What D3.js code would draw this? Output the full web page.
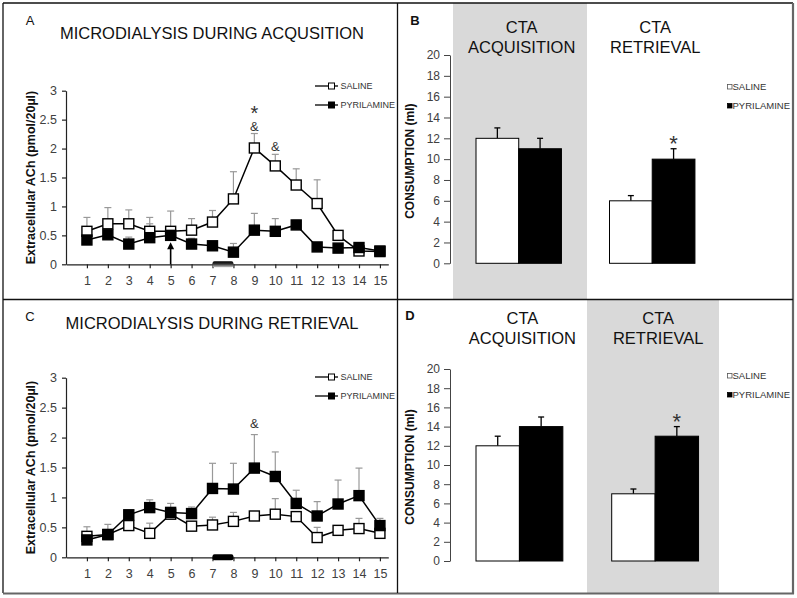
<!DOCTYPE html>
<html><head><meta charset="utf-8">
<script src="https://cdn.jsdelivr.net/npm/d3@7"></script>
<style>body{margin:0;background:#fff} svg{display:block} text{font-family:"Liberation Sans",Arial,sans-serif}</style>
</head><body><svg id="c" width="797" height="598"></svg>
<script>
// ---------- data ----------
const timepoints = [1,2,3,4,5,6,7,8,9,10,11,12,13,14,15];
const yTicksAch = [0,0.5,1,1.5,2,2.5,3];
const seriesNames = ["SALINE","PYRILAMINE"];

const acqSaline    = [0.57,0.70,0.70,0.57,0.57,0.59,0.73,1.13,2.01,1.70,1.37,1.05,0.50,0.23,0.22];
const acqSalineErr = [0.24,0.28,0.24,0.24,0.35,0.20,0.20,0.47,0.25,0.20,0.28,0.41,0.08,0.03,0.00];
const acqPyril     = [0.42,0.51,0.35,0.46,0.50,0.35,0.32,0.21,0.59,0.57,0.68,0.30,0.28,0.29,0.23];
const acqPyrilErr  = [0.00,0.00,0.12,0.24,0.00,0.10,0.00,0.15,0.29,0.22,0.08,0.00,0.00,0.00,0.00];

const retSaline    = [0.35,0.38,0.53,0.40,0.72,0.52,0.54,0.60,0.69,0.72,0.68,0.33,0.45,0.48,0.40];
const retSalineErr = [0.16,0.00,0.00,0.17,0.00,0.00,0.13,0.15,0.00,0.26,0.00,0.17,0.00,0.17,0.00];
const retPyril     = [0.29,0.38,0.71,0.83,0.75,0.73,1.15,1.14,1.49,1.35,0.90,0.69,0.89,1.03,0.53];
const retPyrilErr  = [0.00,0.17,0.00,0.13,0.15,0.11,0.42,0.43,0.56,0.41,0.22,0.24,0.40,0.46,0.12];

const ctaGroups = ["CTA ACQUISITION","CTA RETRIEVAL"];
const yTicksCons = [0,2,4,6,8,10,12,14,16,18,20];
const bSaline    = [12,6];
const bSalineErr = [1,0.5];
const bPyril     = [11,10];
const bPyrilErr  = [1,1];
const dSaline    = [12,7];
const dSalineErr = [1,0.5];
const dPyril     = [14,13];
const dPyrilErr  = [1,1];

// ---------- drawing ----------
const svg = d3.select("#c");
const defs = svg.append("defs");
const grad = defs.append("linearGradient").attr("id","barGrad").attr("x1",0).attr("y1",0).attr("x2",0).attr("y2",1);
grad.append("stop").attr("offset","0%").attr("stop-color","#000");
grad.append("stop").attr("offset","45%").attr("stop-color","#333");
grad.append("stop").attr("offset","100%").attr("stop-color","#c8c8c8");

const bandLayer = svg.append("g");

function lineChart(o){
  const g = svg.append("g");
  const x = d3.scaleLinear().domain([0,15.4]).range([66,388.3]);
  const y = d3.scaleLinear().domain([0,3]).range([o.y0, o.y3]);
  const ya = g.append("g").attr("transform",`translate(${x(0)},0)`)
    .call(d3.axisLeft(y).tickValues(yTicksAch).tickSize(4).tickSizeOuter(0).tickPadding(5)
      .tickFormat(d3.format("")));
  const xa = g.append("g").attr("transform",`translate(0,${y(0)})`)
    .call(d3.axisBottom(x).tickValues(timepoints).tickSize(4).tickSizeOuter(0).tickPadding(8));
  [ya,xa].forEach(a=>{
    a.selectAll("path,line").attr("stroke","#222").attr("stroke-width",1.2);
    a.selectAll("text").attr("font-size",12.5).attr("fill","#404040");
  });
  g.append("text").attr("transform",`translate(35,${(y(0)+y(3))/2}) rotate(-90)`)
    .attr("text-anchor","middle").attr("font-weight","bold").attr("font-size",12.5).attr("fill","#111")
    .text("Extracellular ACh (pmol/20µl)");
  g.append("text").attr("x",212).attr("y",o.titleY).attr("text-anchor","middle").attr("font-size",16.5).attr("fill","#111").text(o.title);
  g.append("text").attr("x",30).attr("y",o.letterY).attr("text-anchor","middle").attr("font-size",13).attr("fill","#111").text(o.letter);
  g.append("rect").attr("x",x(7)).attr("width",x(8)-x(7)).attr("y",y(0)-3).attr("height",6).attr("rx",2)
    .attr("fill",o.barFill);
  const series = [
    {vals:o.saline, err:o.salineErr, fill:"#fff"},
    {vals:o.pyril, err:o.pyrilErr, fill:"#000"}
  ];
  series.forEach(s=>{
    timepoints.forEach((t,i)=>{
      if(!s.err[i]) return;
      const top = y(s.vals[i]+s.err[i]);
      g.append("line").attr("x1",x(t)).attr("x2",x(t)).attr("y1",y(s.vals[i])).attr("y2",top).attr("stroke","#999").attr("stroke-width",1.2);
      g.append("line").attr("x1",x(t)-3.5).attr("x2",x(t)+3.5).attr("y1",top).attr("y2",top).attr("stroke","#999").attr("stroke-width",1.2);
    });
  });
  const line = d3.line().x((d,i)=>x(timepoints[i])).y(d=>y(d));
  series.forEach(s=>{
    g.append("path").attr("d",line(s.vals)).attr("fill","none").attr("stroke","#000").attr("stroke-width",1.5);
    g.selectAll(null).data(s.vals).enter().append("rect")
      .attr("x",(d,i)=>x(timepoints[i])-5).attr("y",d=>y(d)-5).attr("width",10).attr("height",10)
      .attr("fill",s.fill).attr("stroke","#000").attr("stroke-width",1.4);
  });
  series.forEach((s,i)=>{
    const ly = o.legY + i*19;
    g.append("line").attr("x1",315).attr("x2",338).attr("y1",ly).attr("y2",ly).attr("stroke","#000").attr("stroke-width",1.3);
    g.append("rect").attr("x",328.5).attr("y",ly-3).attr("width",6).attr("height",6).attr("fill",s.fill).attr("stroke","#000").attr("stroke-width",1);
    g.append("text").attr("x",340.5).attr("y",ly+3.2).attr("font-size",9).attr("fill","#333").text(seriesNames[i]);
  });
  o.marks.forEach(m=>{
    g.append("text").attr("x",x(m.t)).attr("y",m.y).attr("text-anchor","middle")
      .attr("font-size",m.s==="*"?20:13).attr("fill","#333").text(m.s);
  });
  if(o.arrow){
    const ax = x(5), y0 = y(0);
    g.append("line").attr("x1",ax).attr("x2",ax).attr("y1",y0).attr("y2",y0-17).attr("stroke","#000").attr("stroke-width",1.6);
    g.append("path").attr("d",`M${ax-3.5},${y0-15} L${ax},${y0-22} L${ax+3.5},${y0-15} Z`).attr("fill","#000");
  }
}

function barChart(o){
  const g = svg.append("g");
  const y = d3.scaleLinear().domain([0,20]).range([o.y0, o.y20]);
  const xg = d3.scaleBand().domain(ctaGroups).range([o.start - 0.16*o.step, o.start + o.step*(2-0.36+0.16)])
    .paddingInner(0.36).paddingOuter(0.16);
  const xs = d3.scaleBand().domain(seriesNames).range([0, xg.bandwidth()]);
  bandLayer.append("rect").attr("x",o.shadeX0).attr("width",o.shadeX1-o.shadeX0)
    .attr("y",o.shadeY0).attr("height",o.shadeY1-o.shadeY0).attr("fill","#d9d9d9");
  const ya = g.append("g").attr("transform","translate(450,0)")
    .call(d3.axisLeft(y).tickValues(yTicksCons).tickSize(6).tickSizeOuter(0).tickPadding(4));
  ya.selectAll("path,line").attr("stroke","#444").attr("stroke-width",1);
  ya.selectAll("text").attr("font-size",12).attr("fill","#404040");
  g.append("text").attr("transform",`translate(414,${(o.y0+o.y20)/2+2}) rotate(-90)`)
    .attr("text-anchor","middle").attr("font-weight","bold").attr("font-size",12).attr("fill","#111")
    .text("CONSUMPTION (ml)");
  ctaGroups.forEach(c=>{
    const cx = xg(c)+xg.bandwidth()/2 + 3;
    const parts = c.split(" ");
    g.append("text").attr("x",cx).attr("y",o.headY).attr("text-anchor","middle").attr("font-size",16.5).attr("fill","#111").text(parts[0]);
    g.append("text").attr("x",cx).attr("y",o.headY+20).attr("text-anchor","middle").attr("font-size",16.5).attr("fill","#111").text(parts[1]);
  });
  g.append("text").attr("x",o.letterX).attr("y",o.letterY).attr("text-anchor","middle").attr("font-size",13).attr("font-weight","bold").attr("fill","#111").text(o.letter);
  const sets = [{vals:o.saline, err:o.salineErr, fill:"#fff"},{vals:o.pyril, err:o.pyrilErr, fill:"#000"}];
  sets.forEach((s,si)=>{
    ctaGroups.forEach((c,i)=>{
      const bx = xg(c)+xs(seriesNames[si]);
      const cx = bx + xs.bandwidth()/2;
      const top = y(s.vals[i]+s.err[i]);
      g.append("line").attr("x1",cx).attr("x2",cx).attr("y1",y(s.vals[i])).attr("y2",top).attr("stroke","#000").attr("stroke-width",1.3);
      g.append("line").attr("x1",cx-3).attr("x2",cx+3).attr("y1",top).attr("y2",top).attr("stroke","#000").attr("stroke-width",1.3);
      g.append("rect").attr("x",bx).attr("y",y(s.vals[i])).attr("width",xs.bandwidth()).attr("height",y(0)-y(s.vals[i]))
        .attr("fill",s.fill).attr("stroke","#000").attr("stroke-width",1);
    });
  });
  {
    const c = ctaGroups[1];
    const cx = xg(c)+xs(seriesNames[1])+xs.bandwidth()/2;
    g.append("text").attr("x",cx).attr("y",y(o.pyril[1]+o.pyrilErr[1])+2.5).attr("text-anchor","middle").attr("font-size",22).attr("fill","#333").text("*");
  }
  seriesNames.forEach((n,i)=>{
    const ly = o.legY + i*19;
    g.append("rect").attr("x",727.5).attr("y",ly-3.5).attr("width",4.5).attr("height",4.5)
      .attr("fill",i?"#000":"#fff").attr("stroke",i?"#000":"#555").attr("stroke-width",0.8);
    g.append("text").attr("x",732.5).attr("y",ly+1.5).attr("font-size",9.5).attr("fill","#333").text(n);
  });
}

lineChart({title:"MICRODIALYSIS DURING ACQUSITION", letter:"A", titleY:39, letterY:25, y0:264.3, y3:90.7,
  saline:acqSaline, salineErr:acqSalineErr, pyril:acqPyril, pyrilErr:acqPyrilErr, legY:86, barFill:"url(#barGrad)",
  arrow:true, marks:[{t:9,y:120,s:"*"},{t:9,y:130.5,s:"&"},{t:10,y:151,s:"&"}]});
lineChart({title:"MICRODIALYSIS DURING RETRIEVAL", letter:"C", titleY:329, letterY:321, y0:557.3, y3:377.7,
  saline:retSaline, salineErr:retSalineErr, pyril:retPyril, pyrilErr:retPyrilErr, legY:377, barFill:"#000",
  arrow:false, marks:[{t:9,y:428,s:"&"}]});
barChart({letter:"B", letterX:415, letterY:25, y0:263.3, y20:55, start:476, step:133.5, headY:32.5, legY:88,
  shadeX0:453, shadeX1:587, shadeY0:3, shadeY1:299,
  saline:bSaline, salineErr:bSalineErr, pyril:bPyril, pyrilErr:bPyrilErr});
barChart({letter:"D", letterX:410, letterY:320, y0:561, y20:369, start:476, step:135.7, headY:324, legY:377,
  shadeX0:587, shadeX1:719, shadeY0:300, shadeY1:593,
  saline:dSaline, salineErr:dSalineErr, pyril:dPyril, pyrilErr:dPyrilErr});

const fr = svg.append("g").attr("fill","none");
fr.append("line").attr("x1",3).attr("x2",793).attr("y1",3).attr("y2",3).attr("stroke","#111").attr("stroke-width",1.3);
fr.append("line").attr("x1",3).attr("x2",3).attr("y1",3).attr("y2",593).attr("stroke","#111").attr("stroke-width",1.3);
fr.append("line").attr("x1",793).attr("x2",793).attr("y1",3).attr("y2",594).attr("stroke","#666").attr("stroke-width",2.2);
fr.append("line").attr("x1",3).attr("x2",794).attr("y1",593.5).attr("y2",593.5).attr("stroke","#666").attr("stroke-width",2.2);
fr.append("line").attr("x1",397.5).attr("x2",397.5).attr("y1",3).attr("y2",593).attr("stroke","#111").attr("stroke-width",1.3);
fr.append("line").attr("x1",3).attr("x2",793).attr("y1",299.5).attr("y2",299.5).attr("stroke","#111").attr("stroke-width",1.3);
</script></body></html>
